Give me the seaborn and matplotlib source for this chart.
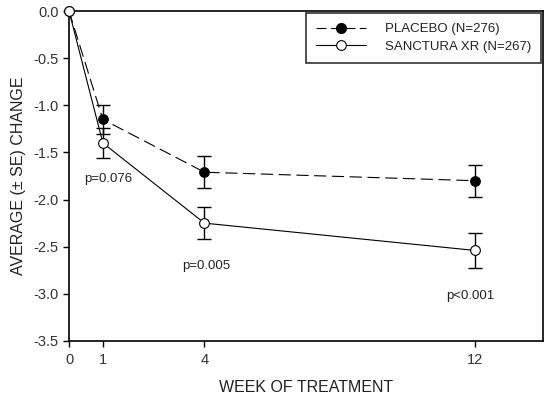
import pandas as pd
import matplotlib.pyplot as plt
import seaborn as sns

# data
weeks = [0, 1, 4, 12]
placebo_mean = [0.0, -1.15, -1.71, -1.80]
placebo_se = [0.0, 0.15, 0.17, 0.17]
sanctura_mean = [0.0, -1.40, -2.25, -2.54]
sanctura_se = [0.0, 0.16, 0.17, 0.19]
groups = ["PLACEBO (N=276)", "SANCTURA XR (N=267)"]
p_labels = ["p=0.076", "p=0.005", "p<0.001"]
p_x = [1.15, 4.05, 11.85]
p_y = [-1.78, -2.70, -3.02]

df = pd.DataFrame({
    "week": weeks * 2,
    "change": placebo_mean + sanctura_mean,
    "se": placebo_se + sanctura_se,
    "group": [groups[0]] * len(weeks) + [groups[1]] * len(weeks),
})

sns.set_style("ticks")
plt.rcParams["font.family"] = ["Liberation Sans", "DejaVu Sans"]

fig = plt.figure(figsize=(5.53, 3.99), dpi=100)
ax = fig.add_axes([0.1248, 0.1454, 0.8572, 0.827])

# error bars (skip week 0)
for g in groups:
    sub = df[(df["group"] == g) & (df["week"] > 0)]
    ax.errorbar(sub["week"], sub["change"], yerr=sub["se"], fmt="none",
                ecolor="black", elinewidth=1, capsize=5, capthick=1, zorder=2)

sns.lineplot(data=df, x="week", y="change", hue="group", style="group",
             palette=["black", "black"], dashes=[(11, 5), ""],
             markers=["o", "o"], markersize=7, linewidth=0.8,
             legend=False, ax=ax, zorder=3)

# fill markers: placebo black, sanctura white
lines = ax.get_lines()
lines[-2].set_markerfacecolor("black")
lines[-2].set_markeredgecolor("black")
lines[-1].set_markerfacecolor("white")
lines[-1].set_markeredgecolor("black")
lines[-1].set_markeredgewidth(0.8)
for ln in lines[-2:]:
    ln.set_clip_on(False)

for lab, x, y in zip(p_labels, p_x, p_y):
    ax.text(x, y, lab, ha="center", va="center", fontsize=9.5, color="#222222")

yt = [0, -0.5, -1.0, -1.5, -2.0, -2.5, -3.0, -3.5]
ax.set_xlim(0, 14)
ax.set_ylim(-3.5, 0)
ax.set_xticks(weeks)
ax.set_yticks(yt)
ax.set_yticklabels([f"{v:.1f}" for v in yt])
ax.tick_params(labelsize=10.5, length=4, width=1, colors="black", labelcolor="#333333")
ax.tick_params(axis="x", pad=5)
ax.set_xlabel("WEEK OF TREATMENT", fontsize=11.5, labelpad=9, color="#222222")
ax.set_ylabel("AVERAGE (\u00b1 SE) CHANGE", fontsize=11.5, labelpad=5, color="#222222")
for s in ax.spines.values():
    s.set_linewidth(1.2)
    s.set_color("black")

h1 = plt.Line2D([], [], color="black", lw=0.8, dashes=(9, 4), marker="o",
                markersize=7, markerfacecolor="black")
h2 = plt.Line2D([], [], color="black", lw=0.8, marker="o", markersize=7,
                markerfacecolor="white", markeredgewidth=0.8)
leg = ax.legend([h1, h2], groups, loc="upper right", fontsize=9.5,
                frameon=True, fancybox=False, borderaxespad=0.15,
                handlelength=3.8, handletextpad=1.45, labelspacing=0.4,
                borderpad=0.75)
leg.get_frame().set_edgecolor("black")
leg.get_frame().set_linewidth(1.2)
for t in leg.get_texts():
    t.set_color("#222222")

fig.savefig("out.png", dpi=100)
